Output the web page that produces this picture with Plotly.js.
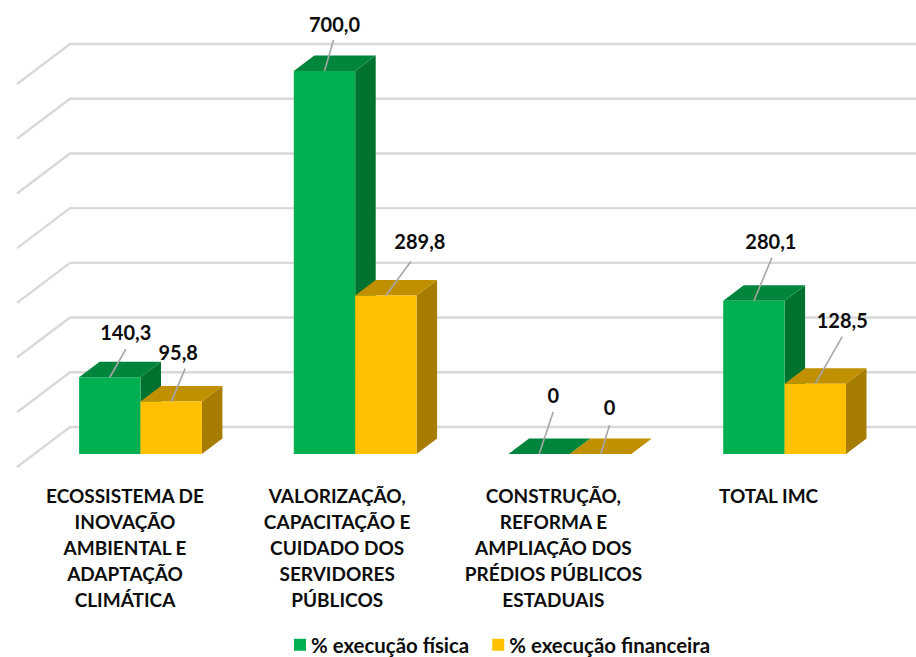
<!DOCTYPE html>
<html><head><meta charset="utf-8">
<script src="https://cdn.plot.ly/plotly-3.0.1.min.js"></script>
<style>html,body{margin:0;padding:0;background:#fff}</style></head>
<body><div id="chart" style="width:916px;height:657px"></div>
<script>
const categories = [
  'ECOSSISTEMA DE<br>INOVAÇÃO<br>AMBIENTAL E<br>ADAPTAÇÃO<br>CLIMÁTICA',
  'VALORIZAÇÃO,<br>CAPACITAÇÃO E<br>CUIDADO DOS<br>SERVIDORES<br>PÚBLICOS',
  'CONSTRUÇÃO,<br>REFORMA E<br>AMPLIAÇÃO DOS<br>PRÉDIOS PÚBLICOS<br>ESTADUAIS',
  'TOTAL IMC'
];
const fisica = [140.3, 700.0, 0, 280.1];
const financeira = [95.8, 289.8, 0, 128.5];
const gridValues = [0, 100, 200, 300, 400, 500, 600, 700];

// Layout constants (pixels)
const W = 916, H = 657, plotBottom = 470, zeroPx = 454, firstCenterPx = 140.5;
const groupPx = 214.7, pxPerUnit = 383 / 700, barPx = 61.4;
const depthX = 20.5, depthY = 15.5;
const wallLeftPx = 70, frontLeftPx = 17, wallZeroPx = 427, frontZeroPx = 467;
const ux = p => p / groupPx, uy = p => p / pxPerUnit;
const xRange = [ux(-firstCenterPx), ux(W - firstCenterPx)];
const yRange = [uy(zeroPx - plotBottom), uy(zeroPx)];
const xs = categories.map((_, i) => i);
const fmt = v => v === 0 ? '0' : v.toFixed(1).replace('.', ',');
const tickShift = [15.5, 18, 16.5, 16];

// Leader line tail and label-centre offsets in pixels from the bar's top-centre
const fisicaTail = [[16, -28], [9, -31], [14, -42], [18, -43]];
const fisicaLabel = [[16, -42], [10, -44], [14, -56], [17, -57]];
const finTail = [[14, -33], [25, -34], [9, -29], [27, -47]];
const finLabel = [[7, -47], [34, -51], [9, -44], [27, -61]];

const traces = [];
// Wall + floor grid
const gx = [], gy = [];
gridValues.forEach(v => {
  gx.push(ux(frontLeftPx - firstCenterPx), ux(wallLeftPx - firstCenterPx), ux(W + 5 - firstCenterPx), null);
  const lift = uy(zeroPx - wallZeroPx), drop = uy(zeroPx - frontZeroPx);
  gy.push(v + drop, v + lift, v + lift, null);
});
traces.push({x: gx, y: gy, mode: 'lines', line: {color: '#D9D9D9', width: 2.4}, showlegend: false, hoverinfo: 'skip'});

function faces(values, side, colorSide, colorTop) {
  const sx = [], sy = [], tx = [], ty = [];
  const bw = ux(barPx), dx = ux(depthX), dy = uy(depthY);
  values.forEach((v, i) => {
    const L = side === 0 ? i - bw : i, R = L + bw;
    sx.push(R, R + dx, R + dx, R, R, null);
    sy.push(0, dy, v + dy, v, 0, null);
    tx.push(L, L + dx, R + dx, R, L, null);
    ty.push(v, v + dy, v + dy, v, v, null);
  });
  traces.push({x: sx, y: sy, mode: 'lines', line: {width: 0}, fill: 'toself', fillcolor: colorSide, showlegend: false, hoverinfo: 'skip'});
  traces.push({x: tx, y: ty, mode: 'lines', line: {width: 0}, fill: 'toself', fillcolor: colorTop, showlegend: false, hoverinfo: 'skip'});
}
faces(fisica, 0, '#00722F', '#00853C');
faces(financeira, 1, '#A67D00', '#C09000');

// Front faces
traces.push({type: 'bar', name: '% execução física', x: xs, y: fisica, xaxis: 'x2', yaxis: 'y2', marker: {color: '#00B050'}, hoverinfo: 'y'});
traces.push({type: 'bar', name: '% execução financeira', x: xs, y: financeira, xaxis: 'x2', yaxis: 'y2', marker: {color: '#FFC000'}, hoverinfo: 'y'});

function labels(values, side, tails, offs) {
  const lx = [], ly = [], px = [], py = [];
  const c = ux(barPx / 2) * (side === 0 ? -1 : 1);
  values.forEach((v, i) => {
    lx.push(i + c, i + c + ux(tails[i][0]), null);
    ly.push(v, v - uy(tails[i][1]), null);
    px.push(i + c + ux(offs[i][0]));
    py.push(v - uy(offs[i][1]));
  });
  traces.push({x: lx, y: ly, xaxis: 'x3', yaxis: 'y3', mode: 'lines', line: {color: '#A6A6A6', width: 1.6}, showlegend: false, hoverinfo: 'skip'});
  traces.push({x: px, y: py, xaxis: 'x3', yaxis: 'y3', mode: 'text', text: values.map(fmt), textposition: 'middle center',
    textfont: {family: 'Lato', size: 20, color: '#0D0D0D', weight: 700}, showlegend: false, hoverinfo: 'skip'});
}
labels(fisica, 0, fisicaTail, fisicaLabel);
labels(financeira, 1, finTail, finLabel);

const hidden = {visible: false, range: xRange, fixedrange: true};
const hiddenY = {visible: false, range: yRange, fixedrange: true};
const tickSpan = '<span style="font-size:19px">';
const layout = {
  width: W, height: H, margin: {l: 0, r: 0, t: 0, b: H - plotBottom, pad: 0},
  paper_bgcolor: '#fff', plot_bgcolor: 'rgba(0,0,0,0)',
  barmode: 'group', bargap: 1 - 2 * barPx / groupPx, bargroupgap: 0,
  showlegend: true,
  legend: {orientation: 'h', xref: 'container', yref: 'container', x: 280 / W, y: 12 / H, xanchor: 'left', yanchor: 'middle',
    font: {family: 'Lato', size: 20.4, color: '#0D0D0D', weight: 700}, itemclick: false, itemdoubleclick: false, bgcolor: 'rgba(0,0,0,0)'},
  xaxis: {range: xRange, tickmode: 'array', tickvals: xs.map(i => i - ux(tickShift[i])),
    ticktext: categories.map(c => tickSpan + c.split('<br>').join('</span><br>' + tickSpan) + '</span>'),
    ticks: '', showgrid: false, zeroline: false, showline: false, automargin: false, tickangle: 0, ticklabelstandoff: 12,
    tickfont: {family: 'Lato', size: 20, color: '#0D0D0D', weight: 700}, fixedrange: true},
  yaxis: {range: yRange, visible: false, fixedrange: true},
  xaxis2: Object.assign({overlaying: 'x'}, hidden), yaxis2: Object.assign({overlaying: 'y'}, hiddenY),
  xaxis3: Object.assign({overlaying: 'x'}, hidden), yaxis3: Object.assign({overlaying: 'y'}, hiddenY)
};
Plotly.newPlot('chart', traces, layout, {displayModeBar: false, responsive: false}).then(() => {
  // Tighten the gap between each legend swatch and its label, and between the two entries
  document.querySelectorAll('.legendtext').forEach(t => {
    t.setAttribute('x', +t.getAttribute('x') - 9);
  });
  const entries = document.querySelectorAll('.legend .traces');
  if (entries[1]) {
    const m = /translate\(([-\d.]+),\s*([-\d.]+)\)/.exec(entries[1].getAttribute('transform'));
    if (m) entries[1].setAttribute('transform', 'translate(' + (+m[1] - 5) + ',' + m[2] + ')');
  }
});
</script></body></html>
